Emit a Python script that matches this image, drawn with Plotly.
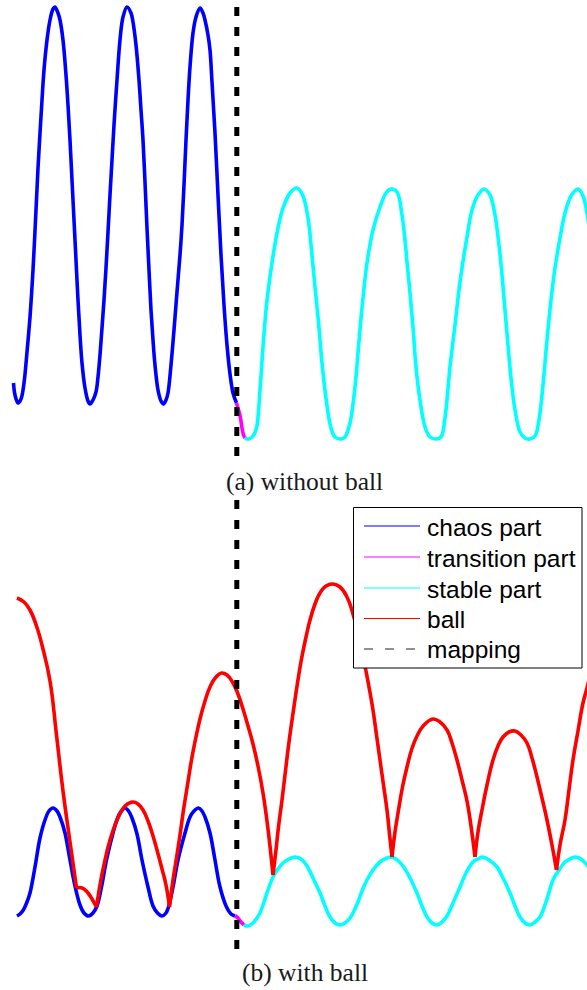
import plotly.graph_objects as go

# ---------------------------------------------------------------------------
# (a) paddle motion without the ball: time t, paddle height h
# ---------------------------------------------------------------------------
chaos_a_t = [13.5, 15, 18, 21, 24, 27, 30, 33, 36, 38, 40, 42, 44, 47, 50, 53, 55,
             58, 60, 63, 66, 68, 70, 72, 74, 76, 78, 80, 82, 85, 88, 90,
             93, 96, 98, 100, 102, 104, 106, 108, 110, 112, 114, 117, 120, 123, 127,
             131, 133, 136, 139, 141, 143, 145, 147, 149, 151, 153, 155, 158, 161, 163.5,
             166, 168, 171, 174, 177, 180, 182, 184, 186, 188, 190, 193, 196, 200,
             203, 205, 208, 210, 212, 215, 218, 221, 224, 227, 230, 233, 236.5]
chaos_a_h = [77, 65, 57, 61, 77, 108, 143, 190, 250, 292, 327, 360, 390, 420, 440, 451, 453,
             447, 440, 420, 385, 355, 320, 280, 240, 200, 160, 125, 97, 72, 59, 56,
             60, 68, 83, 105, 132, 160, 192, 228, 265, 300, 335, 380, 420, 443, 453,
             447, 438, 415, 380, 350, 320, 278, 232, 190, 150, 120, 95, 70, 59, 56,
             60, 67, 95, 130, 168, 205, 235, 275, 320, 360, 393, 427, 443, 452,
             447, 440, 425, 410, 378, 327, 265, 205, 155, 115, 86, 67, 57]

transition_a_t = [236.5, 238.5, 240.5, 242, 243.5, 245]
transition_a_h = [57, 50, 42, 32, 25, 22]

stable_a_t = [245, 249, 253, 256.5, 260, 263, 266.5, 270, 273.5, 278, 283, 290, 297,
              303, 308, 311.5, 315, 318.5, 322, 326.5, 331, 335, 341, 345,
              350, 355, 358.5, 362, 367, 373, 380, 386, 391,
              397, 402, 405, 407, 410, 413, 416, 420, 425, 430, 436, 441,
              445, 450, 455, 459, 462, 467, 472, 478, 484,
              490, 495, 499, 502, 505, 508, 511, 515, 520, 525, 530, 535,
              539, 543, 547, 551, 555, 560, 565, 571, 578,
              583, 587, 590]
stable_a_h = [22, 21, 24, 32, 70, 113, 155, 183, 207, 232, 252, 267, 272,
              264, 242, 210, 173, 138, 97, 58, 32, 23, 21, 23,
              37, 73, 113, 152, 197, 230, 253, 267, 271,
              268, 245, 220, 198, 167, 133, 93, 60, 33, 23, 21, 23,
              42, 93, 135, 170, 192, 223, 250, 265, 271,
              265, 245, 215, 185, 150, 115, 82, 50, 28, 22, 21, 24,
              40, 75, 120, 160, 192, 222, 247, 264, 271,
              264, 247, 225]

# ---------------------------------------------------------------------------
# (b) paddle motion with the ball
# ---------------------------------------------------------------------------
chaos_b_t = [17, 20, 23.3, 27, 30, 35, 40, 45, 49, 53, 57, 60, 65, 70, 75,
             80, 84, 88.5, 93, 97, 101.5, 106.5, 113, 118, 121.5, 125, 128.5, 132, 137, 142,
             148, 153, 157.5, 162, 166, 168.5, 173, 178, 185, 190, 194, 198.5, 202, 205, 210,
             215, 220, 226.5, 231, 235]
chaos_b_h = [39, 41, 45, 53, 62, 88, 117, 135, 144, 147, 144, 138, 122, 95, 69,
             50, 42, 39, 42, 49, 68, 95, 122, 138, 144, 147, 144, 137, 121, 95,
             68, 49, 42, 39, 42, 48, 68, 95, 122, 138, 144, 147, 144, 138, 122,
             95, 68, 48, 41, 39]

transition_b_t = [235, 237, 239, 241.5, 244]
transition_b_h = [39, 38, 35.5, 32.5, 30]

stable_b_t = [244, 248, 253, 257, 260, 264, 268, 273, 278, 283, 289, 295, 301, 307, 313,
              320, 325, 330, 335, 340, 345, 350, 353, 358, 362, 367, 373, 380, 385, 390,
              396, 403, 410, 417, 422, 427, 432, 437, 442, 447, 453, 460, 466, 473, 478,
              482, 489, 497, 503, 510, 515, 520, 525, 530, 535, 540, 547, 553, 559, 565,
              570, 575, 581, 587, 590]
stable_b_h = [30, 29, 32, 37, 42, 53, 65, 78, 86, 92, 96, 98, 96, 89, 77,
              62, 49, 38, 32, 30, 32, 37, 42, 53, 64, 75, 85, 93, 96, 98,
              96, 89, 77, 62, 49, 38, 32, 30, 33, 39, 52, 68, 82, 93, 96,
              98, 95, 88, 77, 62, 49, 38, 32, 30, 33, 38, 56, 75, 85, 93,
              96, 98, 96, 90, 86]

# ball height; None separates the flight arcs between impacts
ball_t = [17, 24, 30, 36.5, 43, 50, 56.5, 63, 70, 76.5, None,
          76.5, 80, 84, 88, 92, 96.5, None,
          96.5, 100, 103.5, 110, 118, 125, 133, 138, 143, 148, 153, 157, 161.5, 166, 169.5, None,
          169.5, 173, 176.5, 180, 183.5, 187.5, 191.5, 196, 200, 205, 210, 216, 221.5, 227,
          233, 238, 243, 248, 253, 258, 263, 268, 273, None,
          273, 276, 278.5, 282, 285, 289, 293.5, 297.5, 301.5, 306, 310, 315, 320, 326, 333,
          340, 347, 353, 359, 365, 369, 373, 376.5, 380, 383.5, 387, 389.5, 392, None,
          392, 395, 398.5, 402.5, 407, 411.5, 417, 424, 433, 440, 447, 452, 457, 462, 467, 471, 475, None,
          475, 478, 482, 487, 493, 498, 503, 509, 515, 521, 527, 532, 537, 542, 547, 552, 556.5, None,
          556.5, 560, 565, 569, 573, 578, 583, 587, 590]
ball_h = [357, 353, 345, 329, 306, 274, 220, 164, 113, 67, None,
          67, 67.5, 66, 62, 56, 48, None,
          48, 70, 88, 115, 137, 149, 153, 151, 145, 134, 119, 105, 88, 70, 48, None,
          48, 75, 97, 120, 145, 170, 195, 218, 236, 254, 268, 278, 282, 280,
          272, 261, 246, 229, 211, 189, 162, 126, 80, None,
          80, 105, 128, 155, 180, 213, 245, 272, 296, 318, 335, 351, 362, 369, 371,
          368, 358, 341, 317, 289, 268, 245, 220, 195, 170, 145, 121, 98, None,
          98, 123, 145, 168, 188, 205, 219, 230, 236, 233, 225, 212, 195, 175, 154, 129, 98, None,
          98, 123, 145, 170, 195, 209, 218, 223, 224, 220, 212, 197, 178, 157, 135, 110, 85, None,
          85, 110, 135, 165, 195, 224, 252, 267, 280]

# switching instant (mapping) and its vertical extent in each panel
mapping_t = 236.8
mapping_h_a = [453, 0]
mapping_h_b = [455, 0]

legend_labels = ["chaos part", "transition part", "stable part", "ball", "mapping"]
captions = ["(a) without ball", "(b) with ball"]

BLUE, MAGENTA, CYAN, RED, BLACK = "#0000ff", "#ff00ff", "#00ffff", "#ff0000", "#000000"
LW = 3.6
W, H = 587, 990

fig = go.Figure()


def curve(t, h, color, panel, smooth=1.0):
    xa, ya = ("x", "y") if panel == "a" else ("x2", "y2")
    fig.add_trace(go.Scatter(
        x=t, y=h, mode="lines", xaxis=xa, yaxis=ya,
        line=dict(color=color, width=LW, shape="spline", smoothing=smooth),
        connectgaps=False, showlegend=False, hoverinfo="skip"))


curve(chaos_a_t, chaos_a_h, BLUE, "a")
curve(transition_a_t, transition_a_h, MAGENTA, "a")
curve(stable_a_t, stable_a_h, CYAN, "a")

curve(chaos_b_t, chaos_b_h, BLUE, "b")
curve(transition_b_t, transition_b_h, MAGENTA, "b")
curve(stable_b_t, stable_b_h, CYAN, "b")
curve(ball_t, ball_h, RED, "b", smooth=1.3)

for xa, ya, span in (("x", "y", mapping_h_a), ("x2", "y2", mapping_h_b)):
    fig.add_trace(go.Scatter(
        x=[mapping_t, mapping_t], y=span, mode="lines", xaxis=xa, yaxis=ya,
        line=dict(color=BLACK, width=5, dash="9px,11px"),
        showlegend=False, hoverinfo="skip"))


def px(xp):
    return xp / W


def py(yp):
    return (H - yp) / H


axis_off = dict(visible=False, showgrid=False, zeroline=False, fixedrange=True)
fig.update_layout(
    width=W, height=H,
    margin=dict(l=0, r=0, t=0, b=0, pad=0),
    paper_bgcolor="white", plot_bgcolor="white",
    xaxis=dict(domain=[0, 1], range=[0, 587], anchor="y", **axis_off),
    yaxis=dict(domain=[py(460), 1], range=[0, 460], anchor="x", **axis_off),
    xaxis2=dict(domain=[0, 1], range=[0, 587], anchor="y2", **axis_off),
    yaxis2=dict(domain=[py(955), py(495)], range=[0, 460], anchor="x2", **axis_off),
)

# legend box drawn by hand so the sample lines and spacing can be sized freely
shapes = [dict(type="rect", xref="paper", yref="paper",
               x0=px(353.5), x1=px(582), y0=py(668), y1=py(507.5),
               line=dict(color=BLACK, width=1), fillcolor="white", layer="above")]
sample_styles = [dict(color=BLUE, width=1), dict(color=MAGENTA, width=1),
                 dict(color=CYAN, width=1), dict(color=RED, width=1),
                 dict(color="#222222", width=1, dash="9px,12px")]
row_line_y = [526, 557, 588, 618.5, 649]
row_text_y = [527, 558, 589.5, 619.5, 649]
annotations = []
for label, style, ly, ty in zip(legend_labels, sample_styles, row_line_y, row_text_y):
    shapes.append(dict(type="line", xref="paper", yref="paper",
                       x0=px(364), x1=px(420), y0=py(ly), y1=py(ly),
                       line=style, layer="above"))
    annotations.append(dict(text=label, xref="paper", yref="paper",
                            x=px(426), y=py(ty), xanchor="left", yanchor="middle",
                            showarrow=False, borderpad=0,
                            font=dict(family="Liberation Sans, Arial, sans-serif",
                                      size=24.5, color=BLACK)))

for cap, cy in zip(captions, [481, 972]):
    annotations.append(dict(text=cap, xref="paper", yref="paper",
                            x=px(304.5), y=py(cy), xanchor="center", yanchor="middle",
                            showarrow=False,
                            font=dict(family="Liberation Serif, Times New Roman, serif",
                                      size=25.5, color="#1a1a1a")))

fig.update_layout(shapes=shapes, annotations=annotations)

fig.write_html("out.html")
